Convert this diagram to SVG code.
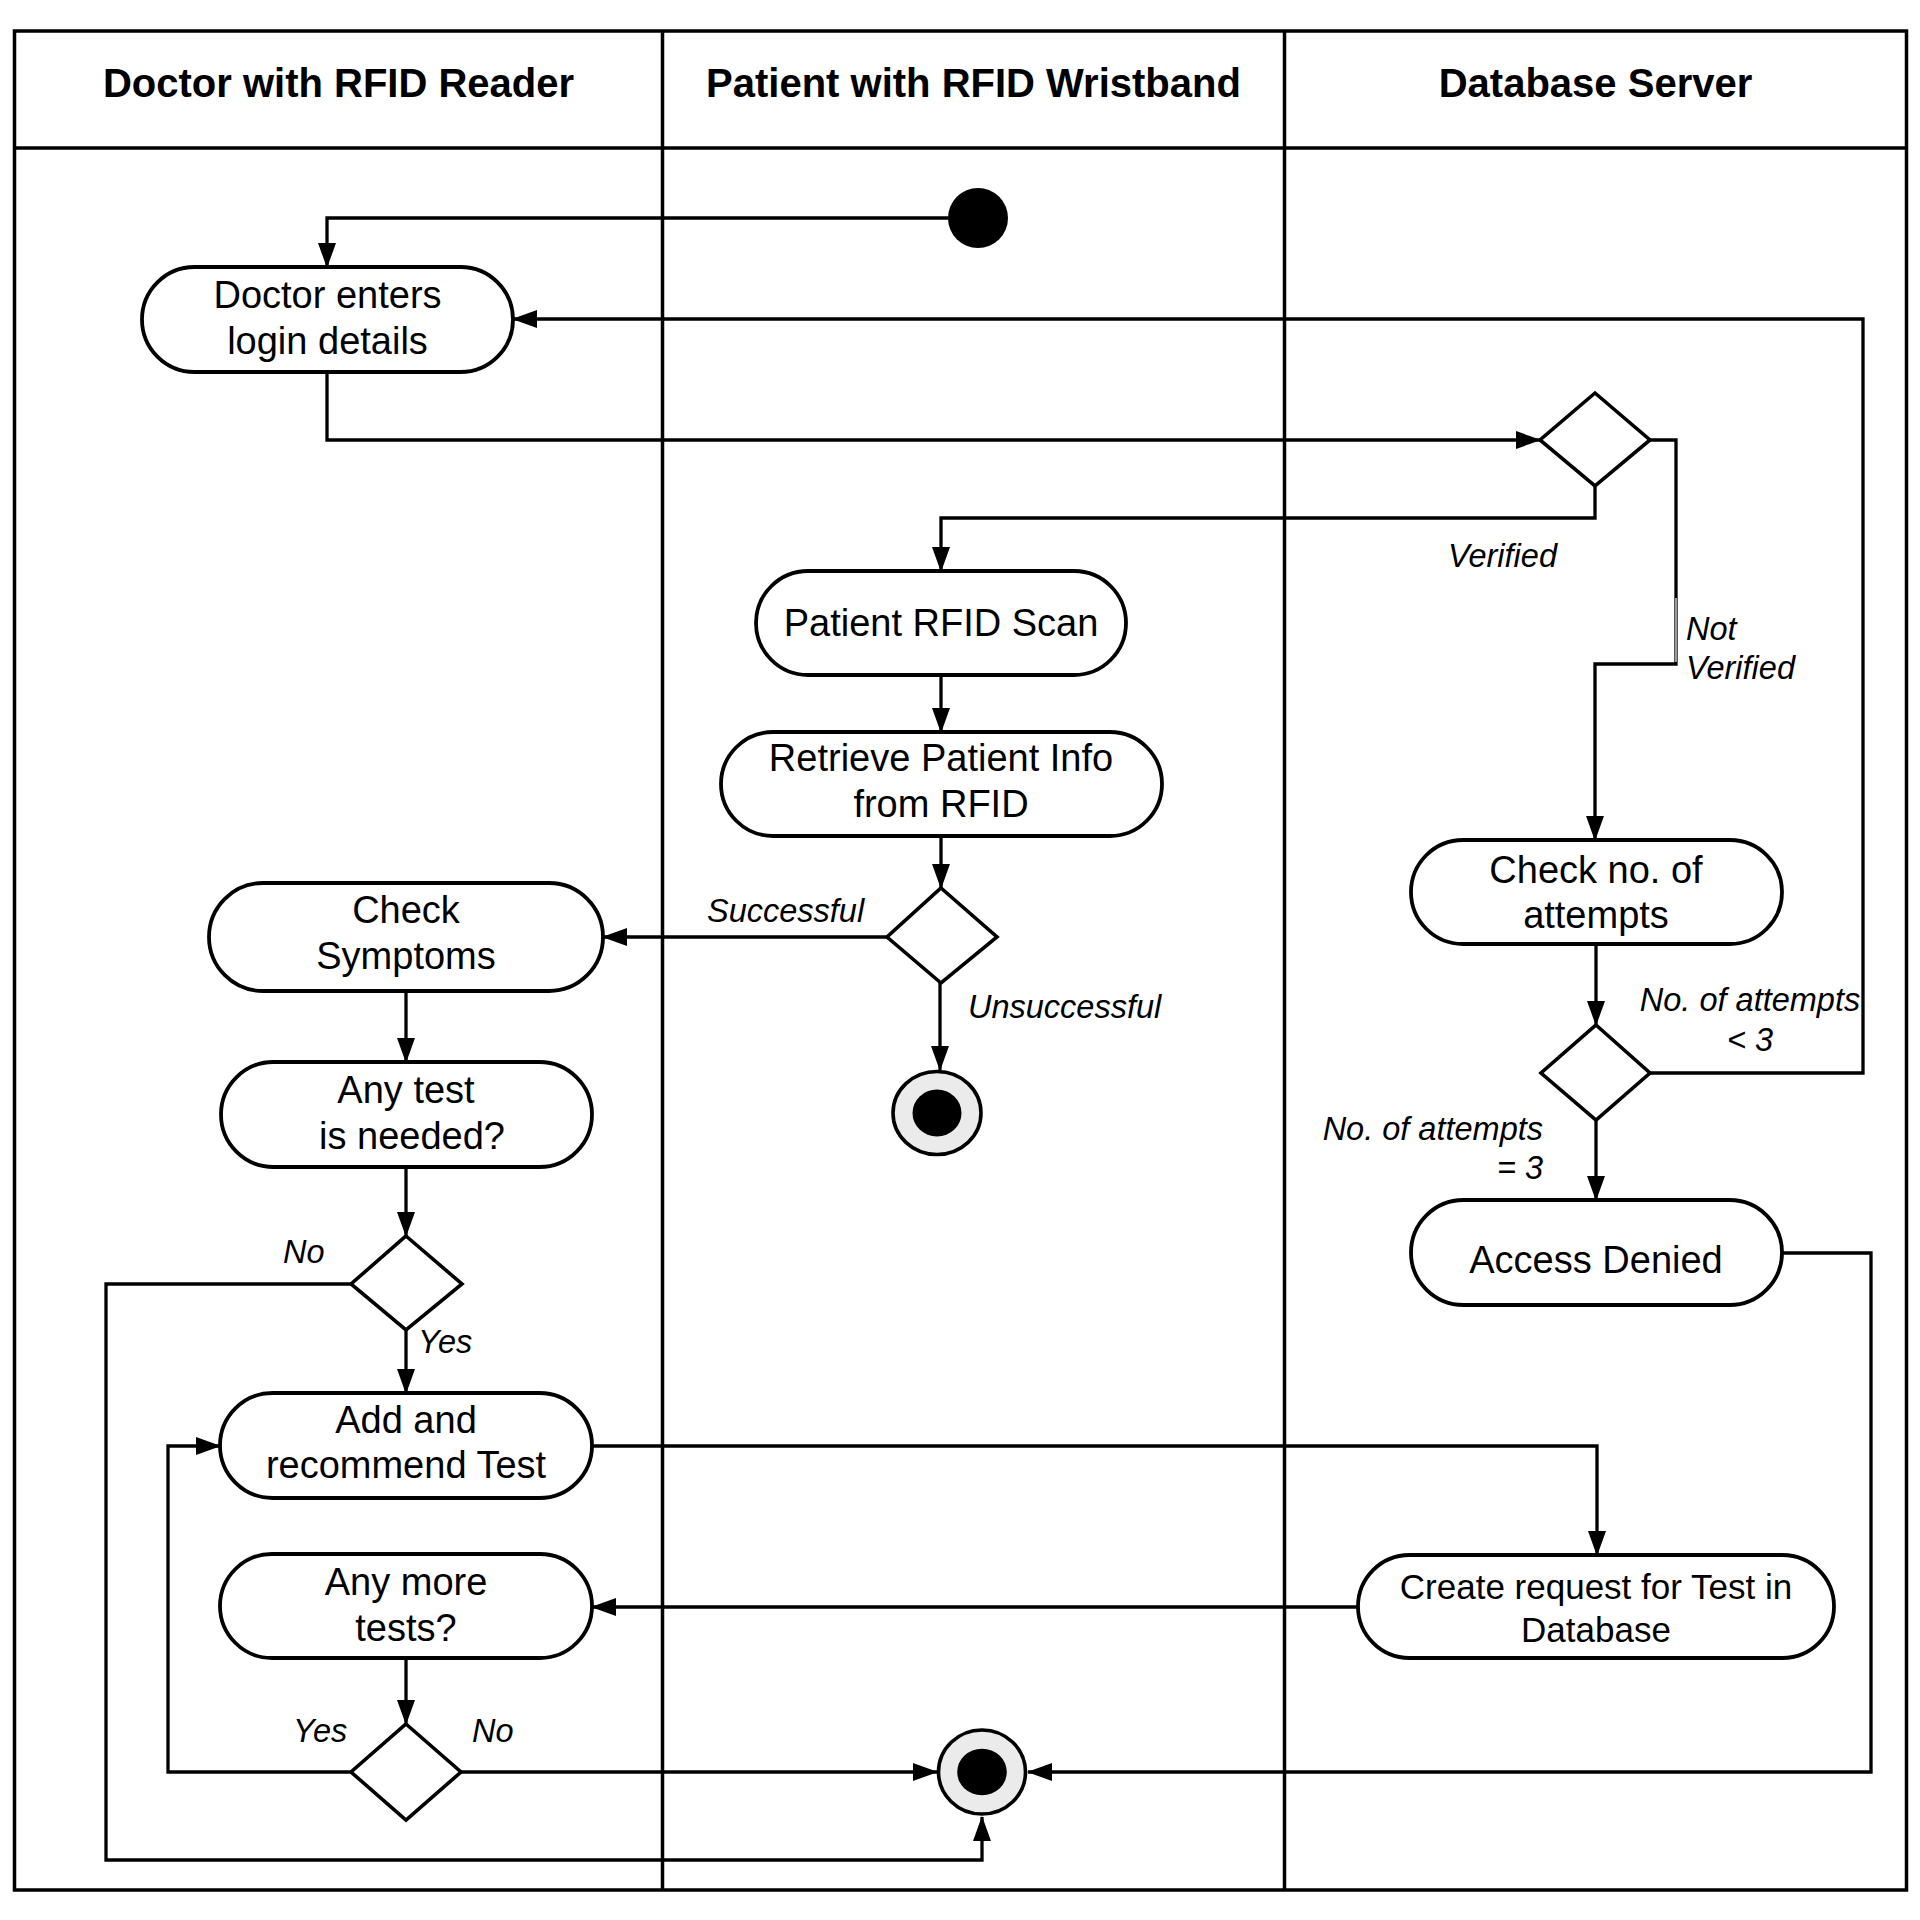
<svg xmlns="http://www.w3.org/2000/svg" width="1920" height="1920" viewBox="0 0 1920 1920">
<style>
.lane{fill:none;stroke:#000;stroke-width:3.5}
.hdr{font-family:"Liberation Sans",Arial,sans-serif;font-weight:bold;font-size:40px;text-anchor:middle;fill:#000}
.node{fill:#fff;stroke:#000;stroke-width:3.8}
.dia{fill:#fff;stroke:#000;stroke-width:3.6}
.t{font-family:"Liberation Sans",Arial,sans-serif;font-size:38px;text-anchor:middle;fill:#000}
.t35{font-family:"Liberation Sans",Arial,sans-serif;font-size:35px;text-anchor:middle;fill:#000}
.lbl{font-family:"Liberation Sans",Arial,sans-serif;font-size:32.5px;font-style:italic;fill:#000}
.c{fill:none;stroke:#000;stroke-width:3.3}
.ca{fill:none;stroke:#000;stroke-width:3.3;marker-end:url(#arr)}
</style>
<defs>
<marker id="arr" markerUnits="userSpaceOnUse" markerWidth="25" markerHeight="18" refX="24" refY="9" orient="auto">
<path d="M0,0 L25,9 L0,18 Z" fill="#000"/>
</marker>
</defs>
<rect width="1920" height="1920" fill="#fff"/>
<g id="lanes">
<rect class="lane" x="14.5" y="31" width="1892" height="1859"/>
<line class="lane" x1="14.5" y1="148" x2="1906.5" y2="148"/>
<line class="lane" x1="662.5" y1="31" x2="662.5" y2="1890"/>
<line class="lane" x1="1284.5" y1="31" x2="1284.5" y2="1890"/>
<text class="hdr" x="338.5" y="97">Doctor with RFID Reader</text>
<text class="hdr" x="973.5" y="97">Patient with RFID Wristband</text>
<text class="hdr" x="1595.5" y="97">Database Server</text>
</g>
<g id="connectors">
<path class="ca" d="M948,218 H327 V267"/>
<path class="ca" d="M327,372 V440 H1540"/>
<path class="ca" d="M1595,486 V518 H941 V571"/>
<path class="ca" d="M1650,440 H1676 V664 H1595 V840"/>
<line x1="1676" y1="598" x2="1676" y2="662" stroke="#fff" stroke-width="1.2"/>
<path class="ca" d="M941,675 V732"/>
<path class="ca" d="M941,836 V888"/>
<path class="ca" d="M887,937 H603"/>
<path class="ca" d="M940,983 V1070"/>
<path class="ca" d="M406,991 V1062"/>
<path class="ca" d="M406,1167 V1236"/>
<path class="ca" d="M406,1330 V1393"/>
<path class="ca" d="M351,1284 H106 V1860 H982 V1817"/>
<path class="ca" d="M592,1446 H1597 V1555"/>
<path class="ca" d="M1358,1607 H592"/>
<path class="ca" d="M406,1658 V1724"/>
<path class="ca" d="M351,1772 H168 V1446 H220"/>
<path class="ca" d="M461,1772 H937"/>
<path class="ca" d="M1782,1253 H1871 V1772 H1028"/>
<path class="ca" d="M1596,944 V1025"/>
<path class="ca" d="M1650,1073 H1863 V319 H513"/>
<path class="ca" d="M1596,1120 V1200"/>
<text class="lbl" x="1448" y="567">Verified</text>
<text class="lbl" x="1686" y="640">Not</text>
<text class="lbl" x="1686" y="679">Verified</text>
<text class="lbl" x="707" y="922">Successful</text>
<text class="lbl" x="968" y="1018">Unsuccessful</text>
<text class="lbl" x="283" y="1263">No</text>
<text class="lbl" x="418" y="1353">Yes</text>
<text class="lbl" x="293" y="1742">Yes</text>
<text class="lbl" x="472" y="1742">No</text>
<text class="lbl" x="1750" y="1011" text-anchor="middle">No. of attempts</text>
<text class="lbl" x="1750" y="1051" text-anchor="middle">&lt; 3</text>
<text class="lbl" x="1543" y="1140" text-anchor="end">No. of attempts</text>
<text class="lbl" x="1543" y="1179" text-anchor="end">= 3</text>
</g>
<g id="start"><circle cx="978" cy="218" r="30" fill="#000"/></g>
<g id="login">
<rect class="node" x="142" y="267" width="371" height="105" rx="52.5"/>
<text class="t" x="327.5" y="308">Doctor enters</text>
<text class="t" x="327.5" y="354">login details</text>
</g>
<g id="decision-verify"><polygon class="dia" points="1595,393 1650,440 1595,486 1540,440"/></g>
<g id="patient-scan">
<rect class="node" x="756" y="571" width="370" height="104" rx="52"/>
<text class="t" x="941" y="636">Patient RFID Scan</text>
</g>
<g id="retrieve">
<rect class="node" x="721" y="732" width="441" height="104" rx="52"/>
<text class="t" x="941" y="771">Retrieve Patient Info</text>
<text class="t" x="941" y="817">from RFID</text>
</g>
<g id="decision-scan"><polygon class="dia" points="941,888 997,937 941,983 887,937"/></g>
<g id="end1">
<ellipse cx="937" cy="1113" rx="44" ry="41.5" fill="#ebebeb" stroke="#000" stroke-width="3.6"/>
<ellipse cx="937" cy="1113" rx="24.5" ry="23.5" fill="#000"/>
</g>
<g id="check-symptoms">
<rect class="node" x="209" y="883" width="394" height="108" rx="54"/>
<text class="t" x="406" y="923">Check</text>
<text class="t" x="406" y="969">Symptoms</text>
</g>
<g id="any-test">
<rect class="node" x="221" y="1062" width="371" height="105" rx="52.5"/>
<text class="t" x="406" y="1103">Any test</text>
<text class="t" x="412" y="1149">is needed?</text>
</g>
<g id="decision-test"><polygon class="dia" points="406,1236 462,1284 406,1330 351,1284"/></g>
<g id="add-test">
<rect class="node" x="220" y="1393" width="372" height="105" rx="52.5"/>
<text class="t" x="406" y="1433">Add and</text>
<text class="t" x="406" y="1478">recommend Test</text>
</g>
<g id="any-more">
<rect class="node" x="220" y="1554" width="372" height="104" rx="52"/>
<text class="t" x="406" y="1595">Any more</text>
<text class="t" x="406" y="1641">tests?</text>
</g>
<g id="decision-more"><polygon class="dia" points="406,1724 461,1772 406,1820 351,1772"/></g>
<g id="end2">
<ellipse cx="982" cy="1772" rx="43.5" ry="42" fill="#ebebeb" stroke="#000" stroke-width="3.6"/>
<ellipse cx="982" cy="1772" rx="24.8" ry="23.3" fill="#000"/>
</g>
<g id="check-attempts">
<rect class="node" x="1411" y="840" width="371" height="104" rx="52"/>
<text class="t" x="1596" y="883">Check no. of</text>
<text class="t" x="1596" y="928">attempts</text>
</g>
<g id="decision-attempts"><polygon class="dia" points="1596,1025 1650,1073 1596,1120 1541,1073"/></g>
<g id="access-denied">
<rect class="node" x="1411" y="1200" width="371" height="105" rx="52.5"/>
<text class="t" x="1596" y="1273">Access Denied</text>
</g>
<g id="create-request">
<rect class="node" x="1358" y="1555" width="476" height="103" rx="51.5"/>
<text class="t35" x="1596" y="1599">Create request for Test in</text>
<text class="t35" x="1596" y="1642">Database</text>
</g>
</svg>
